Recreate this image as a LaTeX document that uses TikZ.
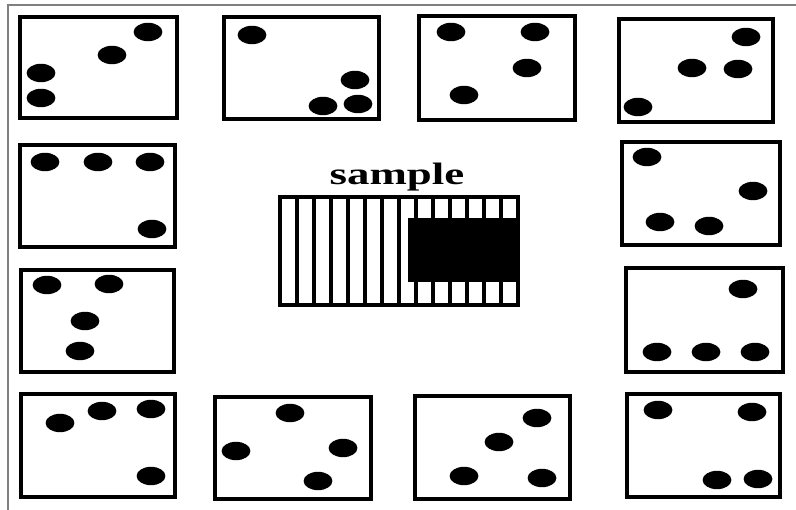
\documentclass[tikz,border=0pt]{standalone}
\usepackage{fontspec}
\setmainfont{Liberation Serif}
\newcommand{\pips}[1]{\foreach \p in {#1} \fill \p ellipse [x radius=0.36cm, y radius=0.23cm];}

\begin{document}
\begin{tikzpicture}[
  x=0.025cm, y=-0.025cm,
  frame/.style={draw=black!50, line width=2pt},
  card/.style={draw=black, line width=2.4pt},
  bar/.style={draw=black, line width=3pt},
  lbl/.style={font=\fontsize{22}{26}\selectfont\bfseries, xscale=1.45, inner sep=0pt}]
\useasboundingbox (0,0) rectangle (796,510);
% outer frame, cut off at right and bottom
\draw[frame] (8,510) -- (8,5) -- (796,5);
% top row
\draw[card] (20,17) rectangle (177,118);
\pips{(148,32),(112,55),(41,73),(41,98)}
\draw[card] (224,17) rectangle (379,119);
\pips{(252,35),(355,80),(323,106),(358,104)}
\draw[card] (419,16) rectangle (575,120);
\pips{(451,32),(535,32),(527,68),(464,95)}
\draw[card] (619,19) rectangle (773,122);
\pips{(746,37),(692,68),(738,69),(638,107)}
% left column
\draw[card] (20,145) rectangle (175,247);
\pips{(45,162),(98,162),(150,162),(152,229)}
\draw[card] (21,270) rectangle (174,372);
\pips{(47,285),(109,284),(85,321),(80,351)}
% right column
\draw[card] (622,142) rectangle (780,245);
\pips{(647,157),(753,191),(660,222),(709,226)}
\draw[card] (626,268) rectangle (783,372);
\pips{(743,289),(657,352),(706,352),(755,352)}
% bottom row
\draw[card] (21,394) rectangle (175,497);
\pips{(60,423),(102,411),(151,409),(151,476)}
\draw[card] (215,397) rectangle (371,499);
\pips{(290,413),(236,451),(343,448),(318,481)}
\draw[card] (415,396) rectangle (570,499);
\pips{(537,418),(499,442),(464,476),(542,478)}
\draw[card] (627,394) rectangle (780,497);
\pips{(658,410),(752,412),(717,480),(758,479)}
% sample in the middle
\node[lbl] (title) at (397,177) {sample};
\foreach \i in {1,...,13} \draw[bar] ({280+17*\i},197) -- ({280+17*\i},305);
\fill (408,218) rectangle (518,282);
\draw[card] (280,197) rectangle (518,305);
\end{tikzpicture}
\end{document}
